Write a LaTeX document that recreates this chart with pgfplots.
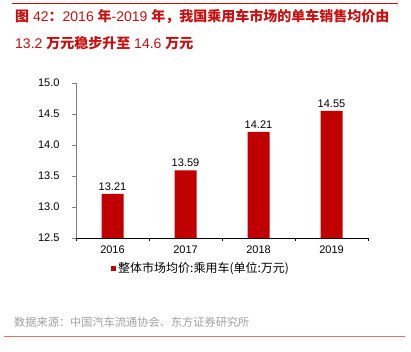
\documentclass[border=0pt]{standalone}
\usepackage{pgfplots}
\pgfplotsset{compat=1.18}
\usepackage{fontspec}
\setmainfont{Liberation Sans}
\newfontfamily\cjk{Noto Sans CJK SC}
\newcommand{\C}[1]{{\cjk\bfseries #1}}
\definecolor{barred}{RGB}{192,0,0}
\definecolor{titlered}{RGB}{200,16,16}
\definecolor{linepink}{RGB}{230,110,110}
\definecolor{srcgray}{RGB}{160,160,160}
\begin{document}
\begin{tikzpicture}
\path[use as bounding box] (0pt,0pt) rectangle (411pt,-351pt);
\draw[titlered, line width=0.8pt] (12pt,-3pt) -- (398pt,-3pt);
\node[anchor=west, inner sep=0pt, text=titlered, font=\fontsize{14}{16}\selectfont] at (15pt,-17pt) {\C{图} 42\C{：}2016 \C{年}-2019 \C{年，我国乘用车市场的单车销售均价由}};
\node[anchor=west, inner sep=0pt, text=titlered, font=\fontsize{14}{16}\selectfont] at (15pt,-43pt) {13.2 \C{万元稳步升至} 14.6 \C{万元}};
\begin{axis}[
  at={(76pt,-238pt)}, anchor=south west,
  scale only axis, width=292pt, height=155pt,
  ybar, bar width=22pt,
  xmin=-0.5, xmax=3.5, ymin=12.5, ymax=15,
  axis lines*=left,
  x axis line style={black},
  y axis line style={gray},
  xtick={0,1,2,3}, xticklabels={2016,2017,2018,2019},
  minor xtick={-0.5,0.5,1.5,2.5,3.5},
  major x tick style={draw=none},
  minor x tick style={draw=black},
  ytick={12.5,13,13.5,14,14.5,15},
  ytick style={draw=gray},
  tick align=outside,
  major tick length=4pt, minor tick length=3pt,
  tick label style={font=\fontsize{11}{13}\selectfont, /pgf/number format/assume math mode=true},
  yticklabel style={xshift=-9pt, /pgf/number format/.cd, fixed, fixed zerofill, precision=1, assume math mode=true},
  nodes near coords,
  nodes near coords style={font=\fontsize{11}{13}\selectfont, text=black, /pgf/number format/.cd, fixed, fixed zerofill, precision=2, assume math mode=true},
  legend image code/.code={\fill[barred] (0pt,-2.5pt) rectangle (5pt,2.5pt);},
  legend style={draw=none, at={(0.12,-0.194)}, anchor=west, inner sep=0pt, font=\cjk\fontsize{12}{14}\selectfont},
]
\addplot[fill=barred, draw=none] coordinates {(0,13.21) (1,13.59) (2,14.21) (3,14.55)};
\legend{整体市场均价:乘用车(单位:万元)}
\end{axis}
\node[anchor=west, inner sep=0pt, text=srcgray, font=\cjk\fontsize{11.2}{13}\selectfont] at (14pt,-322pt) {数据来源：中国汽车流通协会、东方证券研究所};
\draw[linepink, line width=1pt] (4pt,-336pt) -- (405pt,-336pt);
\end{tikzpicture}
\end{document}
